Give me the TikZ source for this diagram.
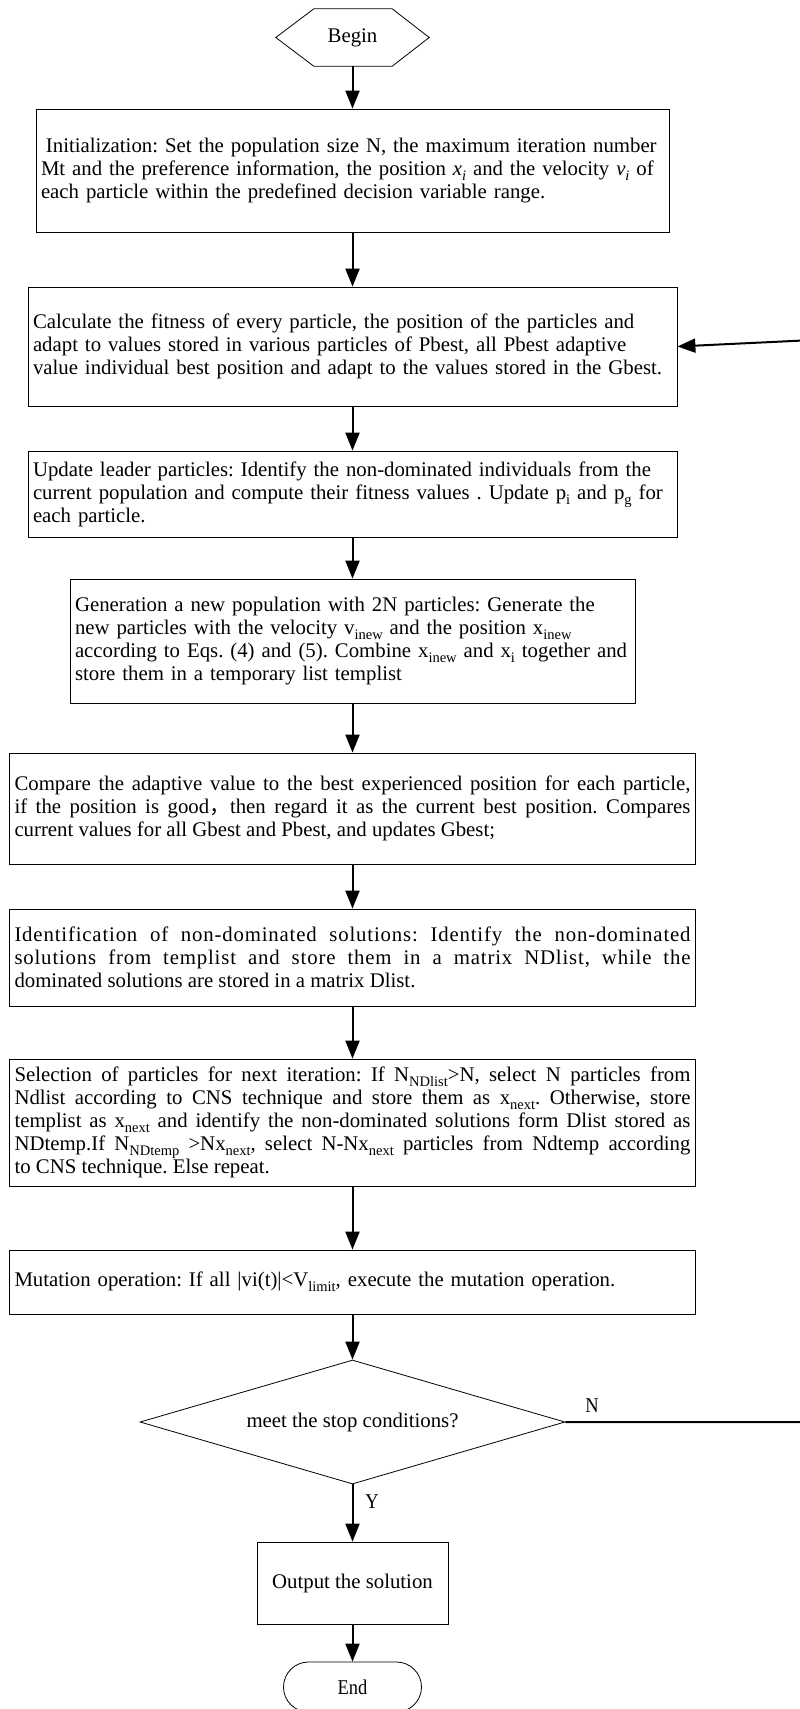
\documentclass[tikz,border=0pt]{standalone}
\usepackage{fontspec}
\setmainfont{Liberation Serif}
\newfontfamily\cjk{Noto Sans CJK SC}
\newfontfamily\spaced[LetterSpace=4]{Liberation Serif}
\newfontfamily\thinfont[FakeStretch=0.88]{Liberation Serif}
\usetikzlibrary{shapes.geometric,arrows.meta}
\newcommand\fs{\fontsize{20.8pt}{23pt}\selectfont\frenchspacing}
\newcommand\sbs[1]{\raisebox{-0.24em}{\fontsize{14.5pt}{14.5pt}\selectfont #1}}
\begin{document}
\begin{tikzpicture}[x=1pt,y=-1pt,
  box/.style={draw, line width=0.8pt, inner xsep=5pt, inner ysep=0pt, font=\fs},
  conn/.style={line width=2pt, -{Triangle[length=18pt,width=14pt]}},
  lbl/.style={font=\thinfont\fontsize{21pt}{23pt}\selectfont, inner sep=0pt}]
\useasboundingbox[fill=white] (0,0) rectangle (800,1709);

% Begin
\node[inner sep=0pt, minimum width=153pt, minimum height=57pt, font=\fs] (begin) at (352.5,37.5) {Begin};
\draw[line width=0.8pt] (begin.west) -- ([xshift=38pt]begin.north west) -- ([xshift=-37pt]begin.north east)
  -- (begin.east) -- ([xshift=-37pt]begin.south east) -- ([xshift=38pt]begin.south west) -- cycle;

\node[box, text width=623pt, minimum height=123pt, align=left] (init) at (352.5,170.5)
 {\hspace*{5pt}Initialization: Set the population size N, the maximum iteration number\\
  Mt and the preference information, the position \textit{x}\sbs{\textit{i}} and the velocity \textit{v}\sbs{\textit{i}} of\\
  each particle within the predefined decision variable range.};

\node[box, text width=639pt, minimum height=119pt, align=left] (calc) at (352.5,346.5)
 {Calculate the fitness of every particle, the position of the particles and\\
  adapt to values stored in various particles of Pbest, all Pbest adaptive\\
  value individual best position and adapt to the values stored in the Gbest.};

\node[box, text width=639pt, minimum height=86pt, align=left] (update) at (352.5,494)
 {Update leader particles: Identify the non-dominated individuals from the\\
  current population and compute their fitness values . Update p\sbs{i} and p\sbs{g} for\\
  each particle.};

\node[box, text width=555pt, minimum height=124pt, align=left] (gen) at (352.5,641)
 {Generation a new population with 2N particles: Generate the\\
  new particles with the velocity v\sbs{inew} and the position x\sbs{inew}\\
  according to Eqs. (4) and (5). Combine x\sbs{inew} and x\sbs{i} together and\\
  store them in a temporary list templist};

\node[box, text width=676pt, minimum height=111pt, align=justify] (compare) at (352.5,808.5)
 {Compare the adaptive value to the best experienced position for each particle,\linebreak
  if the position is good{\cjk ，}then regard it as the current best position. Compares\linebreak
  current values for all Gbest and Pbest, and updates Gbest;};

\node[box, text width=676pt, minimum height=97pt, align=justify] (ident) at (352.5,957.5)
 {{\spaced Identification of non-dominated solutions: Identify the non-dominated\linebreak
  solutions from templist and store them in a matrix NDlist, while the\linebreak}
  dominated solutions are stored in a matrix Dlist.};

\node[box, text width=676pt, minimum height=127pt, align=justify] (select) at (352.5,1122.5)
 {Selection of particles for next iteration: If N\sbs{NDlist}>N, select N particles from\linebreak
  Ndlist according to CNS technique and store them as x\sbs{next}. Otherwise, store\linebreak
  templist as x\sbs{next} and identify the non-dominated solutions form Dlist stored as\linebreak
  NDtemp.If N\sbs{NDtemp} >Nx\sbs{next}, select N-Nx\sbs{next} particles from Ndtemp according\linebreak
  to CNS technique. Else repeat.};

\node[box, text width=676pt, minimum height=64pt, align=left] (mut) at (352.5,1282)
 {Mutation operation: If all |vi(t)|<V\sbs{limit}, execute the mutation operation.};

\node[diamond, draw, line width=0.8pt, aspect=3.4, inner sep=0pt, minimum width=425pt, minimum height=124pt, font=\fs] (dec) at (352.5,1422)
 {meet the stop conditions?};

\node[box, minimum width=191pt, minimum height=82pt] (out) at (352.5,1583) {Output the solution};

\node[draw, line width=0.8pt, rounded corners=25pt, minimum width=138pt, minimum height=50pt, inner sep=0pt] (end) at (352.5,1687)
 {\thinfont\fontsize{21pt}{23pt}\selectfont End};

\coordinate (nR) at (803,1422);
\coordinate (fbR) at (803,340.5);

\draw[conn] (begin.south) -- (init.north);
\draw[conn] (init.south) -- (calc.north);
\draw[conn] (calc.south) -- (update.north);
\draw[conn] (update.south) -- (gen.north);
\draw[conn] (gen.south) -- (compare.north);
\draw[conn] (compare.south) -- (ident.north);
\draw[conn] (ident.south) -- (select.north);
\draw[conn] (select.south) -- (mut.north);
\draw[conn] (mut.south) -- (dec.north);
\draw[conn] (dec.south) -- (out.north);
\draw[conn] (out.south) -- (end.north);
\draw[conn] (dec.east) -- (nR) -- (fbR) -- (calc.east);

\node[lbl] (nlab) at (592,1406) {N};
\node[lbl] (ylab) at (372,1502) {Y};
\end{tikzpicture}
\end{document}
